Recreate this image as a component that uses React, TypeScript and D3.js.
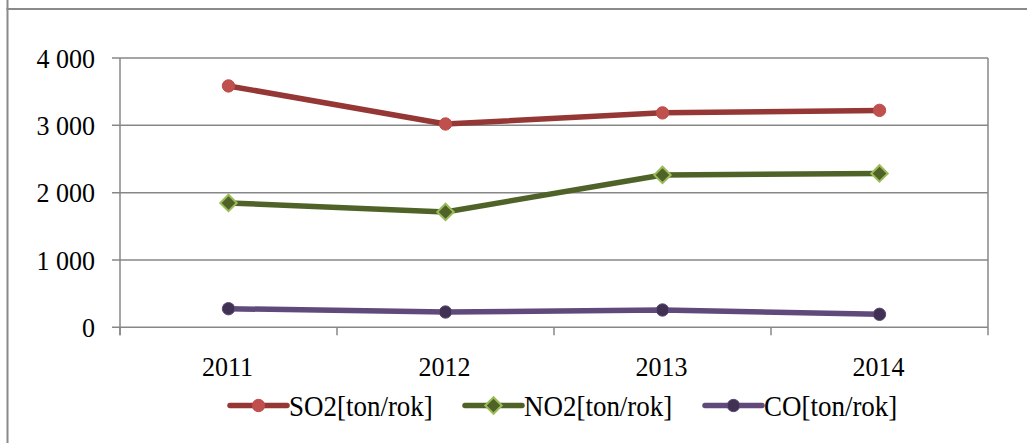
import React from "react";
import * as d3 from "d3";

// Annual emissions, tonnes per year
const years = ["2011", "2012", "2013", "2014"];
const so2 = [3585, 3020, 3185, 3222];
const no2 = [1847, 1713, 2263, 2285];
const co = [276, 227, 257, 193];
const yTicks = [0, 1000, 2000, 3000, 4000];
const seriesNames = ["SO2[ton/rok]", "NO2[ton/rok]", "CO[ton/rok]"];

const W = 1027;
const H = 443;
const FONT = "Liberation Serif, Tinos, Times New Roman, serif";
// glyphs are a touch condensed horizontally
const SX = 0.93;

const fmt = d3.formatLocale({ decimal: ",", thousands: " ", grouping: [3], currency: ["", ""] }).format(",d");

type Series = {
  name: string;
  values: number[];
  line: string;
  fill: string;
  stroke: string;
  shape: "circle" | "diamond";
};

const series: Series[] = [
  { name: seriesNames[0], values: so2, line: "#953735", fill: "#C0504D", stroke: "#BE4B48", shape: "circle" },
  { name: seriesNames[1], values: no2, line: "#4F6228", fill: "#4F6228", stroke: "#9BBB59", shape: "diamond" },
  { name: seriesNames[2], values: co, line: "#604A7B", fill: "#403152", stroke: "#5F497A", shape: "circle" },
];

function Marker({ s, x, y }: { s: Series; x: number; y: number }) {
  if (s.shape === "circle") {
    return <circle cx={x} cy={y} r={6.2} fill={s.fill} stroke={s.stroke} strokeWidth={1} />;
  }
  const d = d3.symbol(d3.symbolSquare, 135)() as string;
  return (
    <path d={d} transform={`translate(${x},${y}) rotate(45)`} fill={s.fill} stroke={s.stroke} strokeWidth={2} />
  );
}

function Label({
  x,
  y,
  anchor,
  size,
  dy,
  children,
}: {
  x: number;
  y: number;
  anchor: "start" | "middle" | "end";
  size: number;
  dy?: string;
  children: React.ReactNode;
}) {
  return (
    <text
      transform={`translate(${x},${y}) scale(${SX},1)`}
      dy={dy}
      textAnchor={anchor}
      fontSize={size}
      fill="#000"
    >
      {children}
    </text>
  );
}

export default function App() {
  const left = 120;
  const right = 988;
  const top = 58;
  const bottom = 327.3;

  const x = d3.scaleBand<string>().domain(years).range([left, right]);
  const y = d3.scaleLinear().domain([0, 4000]).range([bottom, top]);
  const cx = (yr: string) => (x(yr) as number) + x.bandwidth() / 2;

  const line = d3
    .line<number>()
    .x((_, i) => cx(years[i]))
    .y((v) => y(v));

  const gridColor = "#878787";

  // legend layout
  const legendY = 405.5;
  const legendStarts = [230, 465, 705];

  return (
    <svg
      width={W}
      height={H}
      style={{ position: "absolute", left: 0, top: 0, background: "#fff", fontFamily: FONT }}
    >
      {/* outer chart frame */}
      <line x1={7.5} y1={0} x2={7.5} y2={H} stroke="#8a8a8a" strokeWidth={2} />
      <line x1={6.5} y1={9} x2={W} y2={9} stroke="#8a8a8a" strokeWidth={2} />

      {/* horizontal gridlines and y ticks */}
      {yTicks.map((t) => (
        <g key={t}>
          <line x1={left - 8} x2={right} y1={y(t)} y2={y(t)} stroke={gridColor} strokeWidth={1.5} />
          <Label x={95} y={y(t)} dy="0.34em" anchor="end" size={28}>
            {fmt(t)}
          </Label>
        </g>
      ))}

      {/* axes */}
      <line x1={left} x2={left} y1={top} y2={bottom + 8} stroke={gridColor} strokeWidth={1.5} />
      <line x1={right} x2={right} y1={top} y2={bottom + 8} stroke={gridColor} strokeWidth={1.5} />
      {years.map((yr) => (
        <line
          key={"tk" + yr}
          x1={x(yr) as number}
          x2={x(yr) as number}
          y1={bottom}
          y2={bottom + 8}
          stroke={gridColor}
          strokeWidth={1.5}
        />
      ))}
      {years.map((yr) => (
        <Label key={"lb" + yr} x={cx(yr) - 1} y={376} anchor="middle" size={28}>
          {yr}
        </Label>
      ))}

      {/* series lines */}
      {series.map((s) => (
        <path
          key={s.name}
          d={line(s.values) as string}
          fill="none"
          stroke={s.line}
          strokeWidth={5.5}
          strokeLinejoin="round"
          strokeLinecap="round"
        />
      ))}
      {series.map((s) =>
        s.values.map((v, i) => <Marker key={s.name + i} s={s} x={cx(years[i])} y={y(v)} />)
      )}

      {/* legend */}
      {series.map((s, i) => {
        const x0 = legendStarts[i];
        return (
          <g key={"lg" + s.name}>
            <line x1={x0} x2={x0 + 57} y1={legendY} y2={legendY} stroke={s.line} strokeWidth={5.5} strokeLinecap="round" />
            <Marker s={s} x={x0 + 28.5} y={legendY} />
            <Label x={x0 + 59} y={legendY} dy="0.36em" anchor="start" size={29}>
              {s.name}
            </Label>
          </g>
        );
      })}
    </svg>
  );
}
